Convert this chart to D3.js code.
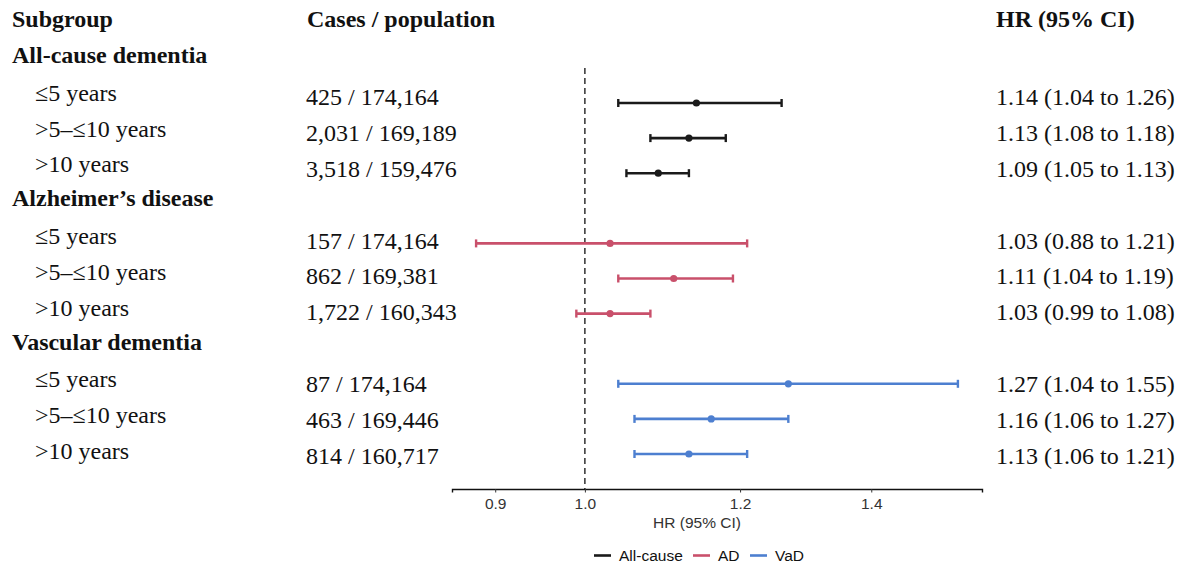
<!DOCTYPE html>
<html lang="en">
<head>
<meta charset="utf-8">
<script src="https://d3js.org/d3.v7.min.js"></script>
<style>
  body { margin: 0; background: #fff; }
  .tbl { font-family: "Liberation Serif", "Times New Roman", serif; font-size: 24px; fill: #111; }
  .bold { font-weight: bold; }
</style>
</head>
<body>
<script>
// rows of the forest plot, top to bottom
var groups = ["All-cause dementia", "Alzheimer\u2019s disease", "Vascular dementia"];
var periods = ["\u22645 years", ">5\u2013\u226410 years", ">10 years"];
var series = ["All-cause", "AD", "VaD"];
var colours = ["#1a1a1a", "#c9506b", "#4d7fd0"];

var cases = [
  ["425 / 174,164", "2,031 / 169,189", "3,518 / 159,476"],
  ["157 / 174,164", "862 / 169,381", "1,722 / 160,343"],
  ["87 / 174,164", "463 / 169,446", "814 / 160,717"]
];
var hr = [
  [1.14, 1.13, 1.09],
  [1.03, 1.11, 1.03],
  [1.27, 1.16, 1.13]
];
var lower = [
  [1.04, 1.08, 1.05],
  [0.88, 1.04, 0.99],
  [1.04, 1.06, 1.06]
];
var upper = [
  [1.26, 1.18, 1.13],
  [1.21, 1.19, 1.08],
  [1.55, 1.27, 1.21]
];
var ticks = [0.9, 1.0, 1.2, 1.4];

var W = 1181, H = 566;
var sans = "'Liberation Sans', Arial, sans-serif";
var svg = d3.select("body").append("svg").attr("width", W).attr("height", H);

// log x scale, padded 5% either side like ggplot
var lo = Math.log(0.88), hi = Math.log(1.55), pad = (hi - lo) * 0.05;
var x = d3.scaleLog().domain([Math.exp(lo - pad), Math.exp(hi + pad)]).range([452, 982]);
var y = d3.scaleLinear().domain([0, 11]).range([67.9, 454]);   // plot rows
var yt = d3.scaleLinear().domain([0, 11]).range([62, 456]);    // table text rows
var axisY = 489;

function fmt(v) { return v.toFixed(2); }

// headers
svg.append("text").attr("class", "tbl bold").attr("x", 12).attr("y", 27).text("Subgroup");
svg.append("text").attr("class", "tbl bold").attr("x", 307).attr("y", 27).text("Cases / population");
svg.append("text").attr("class", "tbl bold").attr("x", 996).attr("y", 27).text("HR (95% CI)");

// reference line at HR = 1
svg.append("line")
  .attr("x1", x(1)).attr("x2", x(1))
  .attr("y1", 68).attr("y2", axisY)
  .attr("stroke", "#111").attr("stroke-width", 1.3)
  .attr("stroke-dasharray", "6,4");

groups.forEach(function(g, gi) {
  var r0 = gi * 4;
  svg.append("text").attr("class", "tbl bold").attr("x", 12).attr("y", yt(r0) + 1).text(g);
  periods.forEach(function(p, pi) {
    var ry = y(r0 + 1 + pi), ty = yt(r0 + 1 + pi);
    var c = colours[gi];
    svg.append("text").attr("class", "tbl").attr("x", 35).attr("y", ty + 3).text(p);
    svg.append("text").attr("class", "tbl").attr("x", 306).attr("y", ty + 7.5).text(cases[gi][pi]);
    svg.append("text").attr("class", "tbl").attr("x", 996).attr("y", ty + 7.5)
      .text(fmt(hr[gi][pi]) + " (" + fmt(lower[gi][pi]) + " to " + fmt(upper[gi][pi]) + ")");

    var bar = svg.append("g").attr("stroke", c).attr("stroke-width", 2.6);
    bar.append("line").attr("x1", x(lower[gi][pi])).attr("x2", x(upper[gi][pi]))
      .attr("y1", ry).attr("y2", ry);
    [lower[gi][pi], upper[gi][pi]].forEach(function(v) {
      bar.append("line").attr("x1", x(v)).attr("x2", x(v))
        .attr("y1", ry - 4).attr("y2", ry + 4).attr("stroke-width", 2.4);
    });
    svg.append("circle").attr("cx", x(hr[gi][pi])).attr("cy", ry).attr("r", 3.6).attr("fill", c);
  });
});

// x axis
var ax = svg.append("g").attr("transform", "translate(0," + axisY + ")")
  .call(d3.axisBottom(x).tickValues(ticks).tickFormat(d3.format(".1f")).tickSize(3.5).tickPadding(5));
ax.select(".domain").attr("stroke", "#111").attr("stroke-width", 1.4);
ax.selectAll(".tick line").attr("stroke", "#333");
ax.selectAll(".tick text").attr("font-family", sans).attr("font-size", 15.5).attr("fill", "#333");

svg.append("text").attr("x", 697).attr("y", 528)
  .attr("text-anchor", "middle")
  .attr("font-family", sans).attr("font-size", 15.5).attr("fill", "#333")
  .text("HR (95% CI)");

// legend
var legX = [594, 693, 750];
series.forEach(function(s, i) {
  svg.append("line").attr("x1", legX[i]).attr("x2", legX[i] + 17)
    .attr("y1", 555.5).attr("y2", 555.5)
    .attr("stroke", colours[i]).attr("stroke-width", 2.6);
  svg.append("text").attr("x", legX[i] + 25).attr("y", 561)
    .attr("font-family", sans).attr("font-size", 15.5).attr("fill", "#111")
    .text(s);
});
</script>
</body>
</html>
